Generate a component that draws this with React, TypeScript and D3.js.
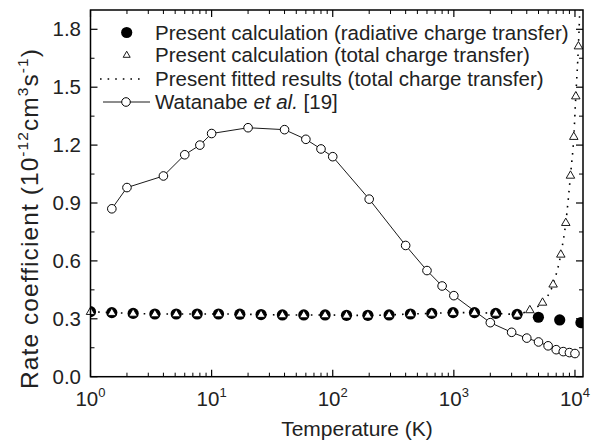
import React from 'react';
import * as d3 from 'd3';

// Present calculation (radiative charge transfer)
const radT = [1, 1.5, 2.25, 3.4, 5.1, 7.6, 11.4, 17.1, 25.6, 38.4, 57.7, 86.5, 130, 195, 292, 438, 657, 985, 1480, 2220, 3330, 4990, 7480, 11200];
const radK = [0.337, 0.332, 0.328, 0.325, 0.325, 0.325, 0.325, 0.324, 0.322, 0.32, 0.32, 0.32, 0.318, 0.318, 0.32, 0.325, 0.328, 0.332, 0.332, 0.328, 0.323, 0.308, 0.294, 0.28];

// Present calculation (total charge transfer)
const totT = [1, 1.5, 2.25, 3.4, 5.1, 7.6, 11.4, 17.1, 25.6, 38.4, 57.7, 86.5, 130, 195, 292, 438, 657, 985, 1480, 2220, 3330, 4240, 5400, 6600, 7640, 8400, 9180, 9780, 10160, 10680];
const totK = [0.337, 0.332, 0.328, 0.325, 0.325, 0.325, 0.325, 0.324, 0.322, 0.32, 0.32, 0.32, 0.318, 0.318, 0.32, 0.325, 0.328, 0.332, 0.332, 0.328, 0.323, 0.346, 0.385, 0.479, 0.634, 0.798, 1.043, 1.244, 1.454, 1.713];

// Present fitted results (total charge transfer)
const fitT = [1, 1.5, 2.25, 3.4, 5.1, 7.6, 11.4, 17.1, 25.6, 38.4, 57.7, 86.5, 130, 195, 292, 438, 657, 985, 1480, 2220, 3330, 4240, 5400, 6600, 7640, 8400, 9180, 9780, 10160, 10680, 11100];
const fitK = [0.337, 0.332, 0.328, 0.325, 0.325, 0.325, 0.325, 0.324, 0.322, 0.32, 0.32, 0.32, 0.318, 0.318, 0.32, 0.325, 0.328, 0.332, 0.332, 0.328, 0.323, 0.346, 0.385, 0.479, 0.634, 0.798, 1.043, 1.244, 1.454, 1.713, 2.0];

// Watanabe et al. [19]
const watT = [1.5, 2, 4, 6, 8, 10, 20, 40, 60, 80, 100, 200, 400, 600, 800, 1000, 2000, 3000, 4000, 5000, 6000, 7000, 8000, 9000, 10000];
const watK = [0.87, 0.98, 1.04, 1.15, 1.2, 1.26, 1.29, 1.28, 1.23, 1.18, 1.14, 0.92, 0.68, 0.55, 0.47, 0.42, 0.28, 0.23, 0.2, 0.18, 0.16, 0.14, 0.13, 0.125, 0.12];

const xMajor = [1, 10, 100, 1000, 10000];
const xMajorExp = ['0', '1', '2', '3', '4'];
const yMajor = [0, 0.3, 0.6, 0.9, 1.2, 1.5, 1.8];
const yMinor = [0.15, 0.45, 0.75, 1.05, 1.35, 1.65];

const legendLabels = [
  'Present calculation (radiative charge transfer)',
  'Present calculation (total charge transfer)',
  'Present fitted results (total charge transfer)',
];

const W = 594, H = 442;
const L = 90.5, R = 583, T = 10, B = 376.7;
const FONT = 'Liberation Sans, Arial, Helvetica, sans-serif';

export default function App() {
  const x = d3.scaleLog().domain([1, 11650]).range([L, R]);
  const y = d3.scaleLinear().domain([0, 1.9]).range([B, T]);

  const xMinor: number[] = [];
  for (let d = 1; d <= 10000; d *= 10) {
    for (let m = 2; m <= 9; m++) {
      const v = d * m;
      if (v < 11650) xMinor.push(v);
    }
  }

  const line = d3.line<[number, number]>().x(d => x(d[0])).y(d => y(d[1]));
  const fitLine = d3.line<[number, number]>().x(d => x(d[0])).y(d => y(d[1])).curve(d3.curveMonotoneX);

  const watPts: [number, number][] = watT.map((t, i) => [t, watK[i]]);
  const fitPts: [number, number][] = fitT.map((t, i) => [t, fitK[i]]);
  const radPts: [number, number][] = radT.map((t, i) => [t, radK[i]]);
  const totPts: [number, number][] = totT.map((t, i) => [t, totK[i]]);

  const tri = (cx: number, cy: number, s: number) => {
    const h = s * 0.866;
    return `M${cx},${cy - h * 0.62}L${cx + s / 2},${cy + h * 0.38}L${cx - s / 2},${cy + h * 0.38}Z`;
  };

  const majLen = 7, minLen = 4;

  const legY = [32.5, 55, 79, 102];

  return (
    <svg width={W} height={H} style={{ position: 'absolute', left: 0, top: 0, background: '#fff' }} fontFamily={FONT}>
      <rect x={0} y={0} width={W} height={H} fill="#fff" />
      <defs>
        <clipPath id="plotclip">
          <rect x={L} y={T} width={R - L} height={B - T} />
        </clipPath>
      </defs>

      {/* Watanabe */}
      <path d={line(watPts) || ''} fill="none" stroke="#000" strokeWidth={0.9} />
      {watPts.map((p, i) => (
        <circle key={'w' + i} cx={x(p[0])} cy={y(p[1])} r={4.3} fill="#fff" stroke="#000" strokeWidth={1} />
      ))}

      {/* fitted dotted */}
      <path d={fitLine(fitPts) || ''} fill="none" stroke="#000" strokeWidth={1.6} strokeDasharray="1.6,6" clipPath="url(#plotclip)" />

      {/* radiative filled circles */}
      {radPts.map((p, i) => (
        <circle key={'r' + i} cx={x(p[0])} cy={y(p[1])} r={5.6} fill="#000" clipPath="url(#plotclip)" />
      ))}

      {/* total triangles */}
      {totPts.map((p, i) => (
        <path key={'t' + i} d={tri(x(p[0]), y(p[1]), 8.5)} fill="#fff" stroke="#000" strokeWidth={0.9} />
      ))}

      {/* frame */}
      <rect x={L} y={T} width={R - L} height={B - T} fill="none" stroke="#000" strokeWidth={1.5} />

      {/* x ticks bottom & top */}
      {xMajor.map((v, i) => (
        <g key={'xm' + i}>
          <line x1={x(v)} x2={x(v)} y1={B} y2={B - majLen} stroke="#000" strokeWidth={1.2} />
          <line x1={x(v)} x2={x(v)} y1={T} y2={T + majLen} stroke="#000" strokeWidth={1.2} />
          <text x={x(v)} y={406} fontSize={20.5} textAnchor="middle" fill="#222">
            10<tspan fontSize={13} dy={-9}>{xMajorExp[i]}</tspan>
          </text>
        </g>
      ))}
      {xMinor.map((v, i) => (
        <g key={'xn' + i}>
          <line x1={x(v)} x2={x(v)} y1={B} y2={B - minLen} stroke="#000" strokeWidth={1} />
          <line x1={x(v)} x2={x(v)} y1={T} y2={T + minLen} stroke="#000" strokeWidth={1} />
        </g>
      ))}

      {/* y ticks left & right */}
      {yMajor.map((v, i) => (
        <g key={'ym' + i}>
          <line x1={L} x2={L + majLen} y1={y(v)} y2={y(v)} stroke="#000" strokeWidth={1.2} />
          <line x1={R} x2={R - majLen} y1={y(v)} y2={y(v)} stroke="#000" strokeWidth={1.2} />
          <text x={81} y={y(v) + 7} fontSize={20.5} textAnchor="end" fill="#222">{d3.format('.1f')(v)}</text>
        </g>
      ))}
      {yMinor.map((v, i) => (
        <g key={'yn' + i}>
          <line x1={L} x2={L + minLen} y1={y(v)} y2={y(v)} stroke="#000" strokeWidth={1} />
          <line x1={R} x2={R - minLen} y1={y(v)} y2={y(v)} stroke="#000" strokeWidth={1} />
        </g>
      ))}

      {/* axis titles */}
      <text x={357} y={436} fontSize={21} textAnchor="middle" fill="#222">Temperature (K)</text>
      <text transform={`translate(38,${219}) rotate(-90)`} fontSize={24.5} textAnchor="middle" fill="#222" textLength={340} lengthAdjust="spacing">
        Rate coefficient (10<tspan fontSize={15.5} dy={-10}>-12</tspan><tspan dy={10}>cm</tspan><tspan fontSize={15.5} dy={-10}>3</tspan><tspan dy={10}>s</tspan><tspan fontSize={15.5} dy={-10}>-1</tspan><tspan dy={10}>)</tspan>
      </text>

      {/* legend */}
      <circle cx={126.7} cy={legY[0]} r={5.6} fill="#000" />
      <path d={tri(126.7, legY[1], 7)} fill="#fff" stroke="#000" strokeWidth={0.9} />
      <line x1={100} x2={143} y1={legY[2]} y2={legY[2]} stroke="#000" strokeWidth={1.6} strokeDasharray="1.6,6" />
      <line x1={103} x2={150} y1={legY[3]} y2={legY[3]} stroke="#000" strokeWidth={0.9} />
      <circle cx={126} cy={legY[3]} r={4.3} fill="#fff" stroke="#000" strokeWidth={1} />
      {legendLabels.map((s, i) => (
        <text key={'l' + i} x={155} y={legY[i] + 7} fontSize={20.5} fill="#222">{s}</text>
      ))}
      <text x={155} y={legY[3] + 7} fontSize={20.5} fill="#222">
        Watanabe <tspan fontStyle="italic">et al.</tspan> [19]
      </text>
    </svg>
  );
}
